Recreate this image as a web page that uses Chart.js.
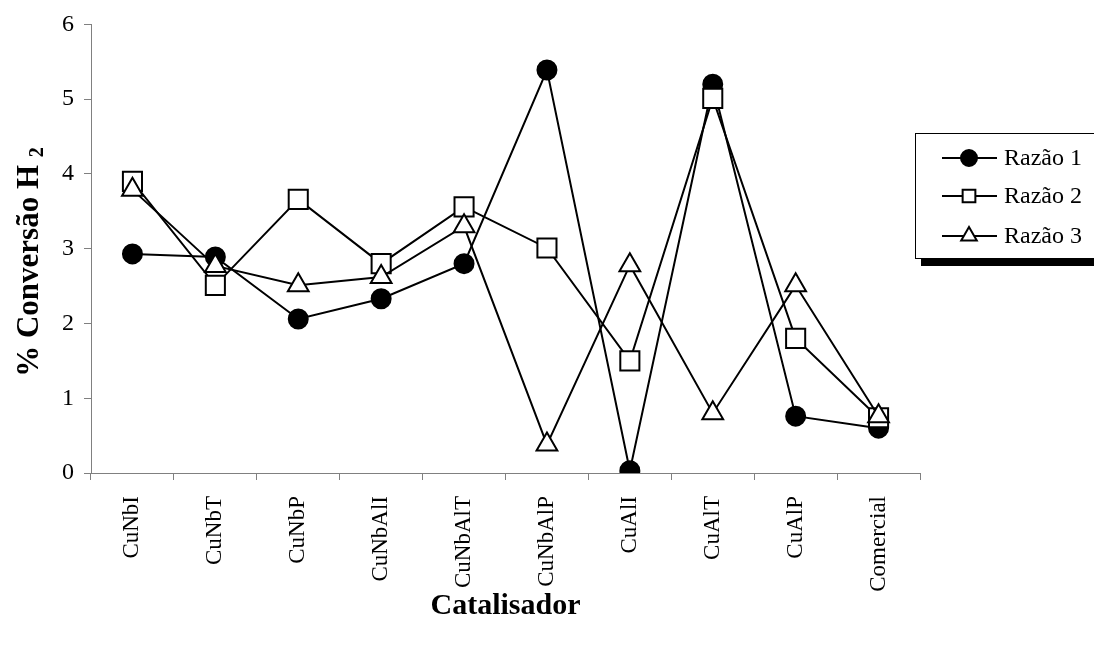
<!DOCTYPE html>
<html>
<head>
<meta charset="utf-8">
<script src="https://cdn.jsdelivr.net/npm/chart.js@4.4.1/dist/chart.umd.min.js"></script>
<style>
  html, body { margin: 0; padding: 0; background: #ffffff; }
  #wrap { width: 1094px; height: 647px; }
</style>
</head>
<body>
<div id="wrap"><canvas id="c" width="1094" height="647"></canvas></div>
<script>
// Catalysts on the x axis
const categories = ['CuNbI', 'CuNbT', 'CuNbP', 'CuNbAlI', 'CuNbAlT', 'CuNbAlP', 'CuAlI', 'CuAlT', 'CuAlP', 'Comercial'];

// H2 conversion (%) for each ratio
const razao1 = [2.93, 2.89, 2.06, 2.33, 2.80, 5.39, 0.03, 5.20, 0.76, 0.60];
const razao2 = [3.90, 2.51, 3.66, 2.80, 3.56, 3.01, 1.50, 5.01, 1.80, 0.74];
const razao3 = [3.79, 2.77, 2.51, 2.62, 3.30, 0.38, 2.78, 0.80, 2.51, 0.76];

const seriesNames = ['Razão 1', 'Razão 2', 'Razão 3'];
const yTicks = [0, 1, 2, 3, 4, 5, 6];

const SERIF = '"Liberation Serif", "Times New Roman", serif';
const AXIS_GREY = '#808080';

const markerStyles = [
  { pointStyle: 'circle',   radius: 9.5,  legendRadius: 8, fill: '#000000' },
  { pointStyle: 'rect',     radius: 13.5, legendRadius: 9, fill: '#ffffff' },
  { pointStyle: 'triangle', radius: 12,   legendRadius: 9, fill: '#ffffff' }
];

function makeDataset(i, values) {
  const m = markerStyles[i];
  return {
    label: seriesNames[i],
    data: values,
    borderColor: '#000000',
    borderWidth: 2,
    pointStyle: m.pointStyle,
    pointRadius: m.radius,
    pointHoverRadius: m.radius,
    pointBackgroundColor: m.fill,
    pointBorderColor: '#000000',
    pointBorderWidth: 2,
    fill: false,
    tension: 0,
    order: 3 - i   // later ratios are painted on top
  };
}

// Axis titles and the framed legend with its drop shadow
const decorations = {
  id: 'decorations',
  afterDraw(chart) {
    const ctx = chart.ctx;
    const area = chart.chartArea;
    ctx.save();

    // x-axis title
    ctx.fillStyle = '#000';
    ctx.font = 'bold 30px ' + SERIF;
    ctx.textAlign = 'center';
    ctx.textBaseline = 'alphabetic';
    ctx.fillText('Catalisador', (area.left + area.right) / 2, 614);

    // y-axis title with subscript
    const main = '% Conversão H ';
    const sub = '2';
    ctx.font = 'bold 31px ' + SERIF;
    const wMain = ctx.measureText(main).width;
    ctx.font = 'bold 20px ' + SERIF;
    const wSub = ctx.measureText(sub).width;
    const total = wMain + wSub;
    ctx.translate(38, 262);
    ctx.rotate(-Math.PI / 2);
    ctx.textAlign = 'left';
    ctx.font = 'bold 31px ' + SERIF;
    ctx.fillText(main, -total / 2, 0);
    ctx.font = 'bold 20px ' + SERIF;
    ctx.fillText(sub, -total / 2 + wMain, 5);
    ctx.setTransform(1, 0, 0, 1, 0, 0);

    // legend frame and shadow
    const bx = 915, by = 133, bw = 185, bh = 125;
    ctx.fillStyle = '#000';
    ctx.fillRect(bx + 6, by + bh, bw, 8);
    ctx.fillStyle = '#fff';
    ctx.fillRect(bx, by, bw, bh);
    ctx.strokeStyle = '#000';
    ctx.lineWidth = 1;
    ctx.strokeRect(bx + 0.5, by + 0.5, bw, bh);

    const rows = [158, 196, 236];
    chart.data.datasets.forEach((ds, i) => {
      const y = rows[i];
      ctx.strokeStyle = '#000';
      ctx.lineWidth = 2;
      ctx.beginPath();
      ctx.moveTo(942, y);
      ctx.lineTo(997, y);
      ctx.stroke();
      const m = markerStyles[i];
      ctx.fillStyle = m.fill;
      ctx.strokeStyle = '#000';
      ctx.lineWidth = 2;
      Chart.helpers.drawPoint(ctx, { pointStyle: m.pointStyle, radius: m.legendRadius, rotation: 0, borderWidth: 2 }, 969, y);
      ctx.fillStyle = '#000';
      ctx.font = '24px ' + SERIF;
      ctx.textAlign = 'left';
      ctx.textBaseline = 'middle';
      ctx.fillText(ds.label, 1004, y + 1);
    });

    ctx.restore();
  }
};

new Chart(document.getElementById('c'), {
  type: 'line',
  data: {
    labels: categories,
    datasets: [makeDataset(0, razao1), makeDataset(1, razao2), makeDataset(2, razao3)]
  },
  plugins: [decorations],
  options: {
    responsive: false,
    animation: false,
    devicePixelRatio: 1,
    layout: { padding: { left: 0, top: 22, right: 174, bottom: 0 } },
    plugins: {
      legend: { display: false },
      tooltip: { enabled: false },
      title: { display: false }
    },
    scales: {
      x: {
        type: 'category',
        offset: true,
        afterFit(scale) { scale.height = 174; },
        grid: {
          offset: true,
          drawOnChartArea: false,
          drawTicks: true,
          tickLength: 7,
          color: AXIS_GREY,
          lineWidth: 1
        },
        border: { color: AXIS_GREY, width: 1 },
        ticks: {
          autoSkip: false,
          minRotation: 90,
          maxRotation: 90,
          padding: 16,
          color: '#000',
          font: { family: SERIF, size: 23 }
        }
      },
      y: {
        min: 0,
        max: 6,
        afterFit(scale) { scale.width = 91; },
        afterBuildTicks(scale) { scale.ticks = yTicks.map(v => ({ value: v })); },
        grid: {
          drawOnChartArea: false,
          drawTicks: true,
          tickLength: 7,
          color: AXIS_GREY,
          lineWidth: 1
        },
        border: { color: AXIS_GREY, width: 1 },
        ticks: {
          padding: 10,
          color: '#000',
          font: { family: SERIF, size: 24 }
        }
      }
    }
  }
});
</script>
</body>
</html>
